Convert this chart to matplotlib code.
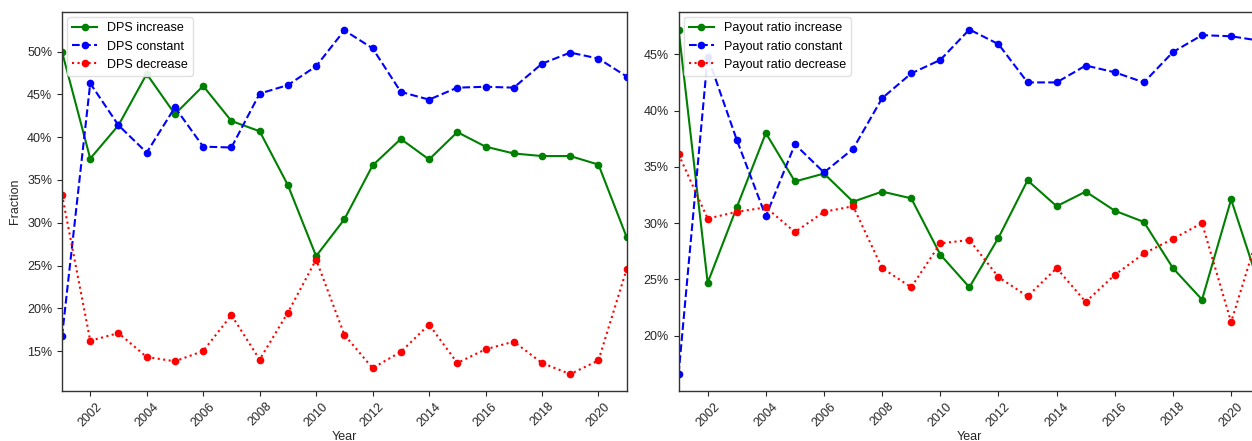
import matplotlib
matplotlib.use("Agg")
import matplotlib.pyplot as plt
from matplotlib.ticker import PercentFormatter, MultipleLocator

plt.rcParams["font.family"] = ["Liberation Sans", "DejaVu Sans"]
plt.rcParams["font.size"] = 9

years = list(range(2001, 2022))

# Share of firms (in %) by change in dividend per share
dps_increase = [50.0, 37.5, 41.4, 47.4, 42.7, 46.0, 41.9, 40.7, 34.4, 26.1, 30.4,
                36.7, 39.8, 37.4, 40.6, 38.9, 38.1, 37.8, 37.8, 36.8, 28.3]
dps_constant = [16.7, 46.3, 41.4, 38.2, 43.5, 38.9, 38.8, 45.1, 46.1, 48.3, 52.5,
                50.4, 45.3, 44.4, 45.8, 45.9, 45.8, 48.6, 49.9, 49.2, 47.1]
dps_decrease = [33.3, 16.2, 17.1, 14.3, 13.8, 15.0, 19.2, 14.0, 19.5, 25.7, 16.9,
                13.0, 14.9, 18.1, 13.6, 15.2, 16.1, 13.6, 12.3, 13.9, 24.6]

# Share of firms (in %) by change in payout ratio
payout_increase = [47.2, 24.7, 31.4, 38.0, 33.7, 34.4, 31.9, 32.8, 32.2, 27.2, 24.3,
                   28.7, 33.8, 31.5, 32.8, 31.1, 30.1, 26.0, 23.2, 32.1, 24.2]
payout_constant = [16.6, 44.8, 37.4, 30.6, 37.0, 34.5, 36.6, 41.1, 43.3, 44.5, 47.2,
                   45.9, 42.5, 42.5, 44.0, 43.4, 42.5, 45.2, 46.7, 46.6, 46.2]
payout_decrease = [36.1, 30.4, 31.0, 31.4, 29.2, 31.0, 31.5, 26.0, 24.3, 28.2, 28.5,
                   25.2, 23.5, 26.0, 23.0, 25.4, 27.3, 28.6, 30.0, 21.2, 29.6]

W, H = 1252, 441
fig = plt.figure(figsize=(W / 100, H / 100), dpi=100)


def px_axes(x0, y0, x1, y1):
    return fig.add_axes([x0 / W, 1 - y1 / H, (x1 - x0) / W, (y1 - y0) / H])


ax1 = px_axes(62, 12.3, 626.7, 390.7)
ax2 = px_axes(678.6, 12.3, 1260.2, 390.7)

spine_color = "#333333"


def draw(ax, inc, const, dec, names, ylim, ylabel=None):
    ax.plot(years, inc, color="green", linestyle="-", marker="o", markersize=4.5,
            linewidth=1.5, label=names[0])
    ax.plot(years, const, color="blue", linestyle="--", marker="o", markersize=4.5,
            linewidth=1.5, label=names[1])
    ax.plot(years, dec, color="red", linestyle=":", marker="o", markersize=4.5,
            linewidth=1.5, label=names[2])
    ax.set_xlim(2001, 2021)
    ax.set_ylim(*ylim)
    ax.xaxis.set_major_locator(MultipleLocator(2))
    ax.yaxis.set_major_locator(MultipleLocator(5))
    ax.yaxis.set_major_formatter(PercentFormatter(100, decimals=0))
    ax.tick_params(axis="x", rotation=45, colors="#262626", labelsize=9)
    ax.tick_params(axis="y", colors="#262626", labelsize=9)
    for lab in ax.get_xticklabels():
        lab.set_ha("center")
    for s in ax.spines.values():
        s.set_color(spine_color)
        s.set_linewidth(1.0)
    ax.set_xlabel("Year", color="#262626", labelpad=2)
    if ylabel:
        ax.set_ylabel(ylabel, color="#262626")
    leg = ax.legend(loc="upper left", fontsize=9, framealpha=0.9,
                    borderaxespad=0.4, handlelength=2.0)
    leg.get_frame().set_edgecolor("#dddddd")


draw(ax1, dps_increase, dps_constant, dps_decrease,
     ["DPS increase", "DPS constant", "DPS decrease"], (10.36, 54.61), "Fraction")
draw(ax2, payout_increase, payout_constant, payout_decrease,
     ["Payout ratio increase", "Payout ratio constant", "Payout ratio decrease"],
     (15.11, 48.73))

fig.savefig("out.png", dpi=100)
